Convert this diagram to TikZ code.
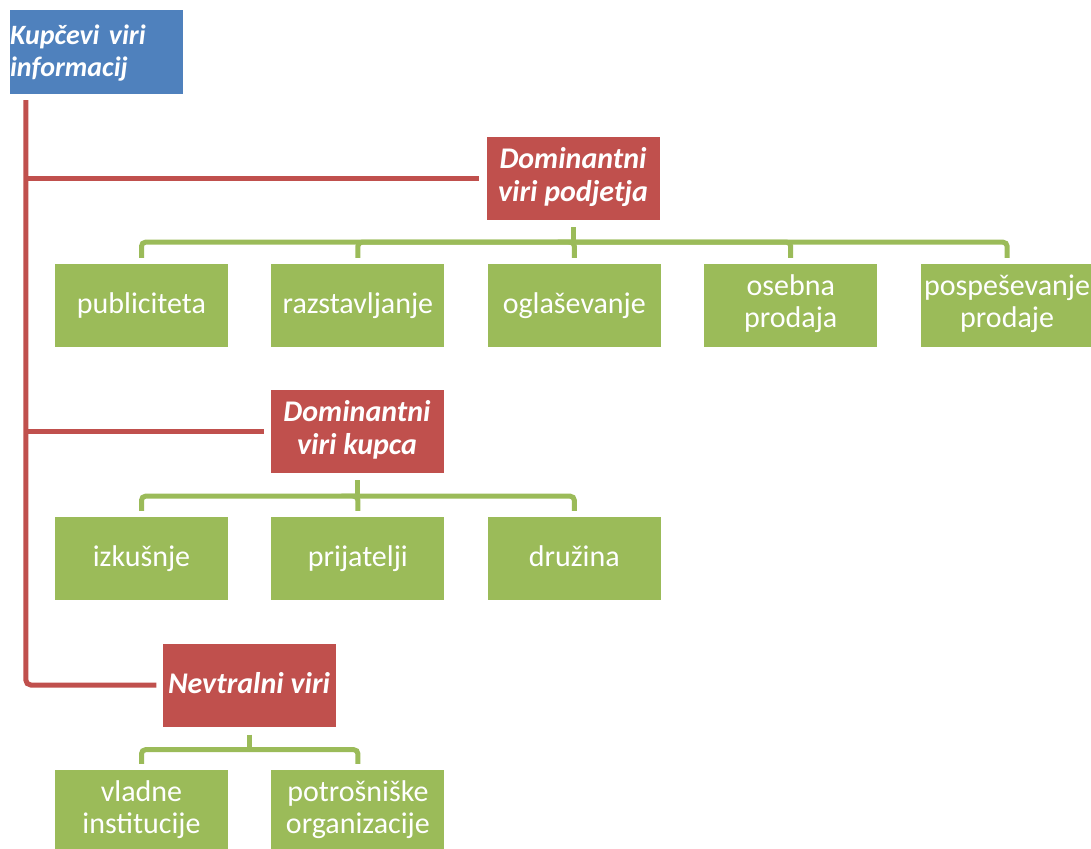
\documentclass[tikz,border=0pt]{standalone}
\usepackage{fontspec}
\setmainfont{Carlito}
\usetikzlibrary{positioning}
\definecolor{kBlue}{HTML}{4F81BD}
\definecolor{kRed}{HTML}{C0504D}
\definecolor{kGreen}{HTML}{9BBB59}
\newcommand{\kStrut}{\rule[-8pt]{0pt}{32pt}}
\tikzstyle{kRoot} = [rectangle, minimum width=173pt, minimum height=84pt, inner xsep=0pt, text width=173pt, align=left, fill=kBlue, text=white, font=\fontsize{28}{32}\selectfont\bfseries\itshape, execute at begin node=\strut]
\tikzstyle{kSource} = [rectangle, minimum width=173pt, minimum height=83pt, inner sep=0pt, align=center, fill=kRed, text=white, font=\fontsize{30}{33}\selectfont\bfseries\itshape, execute at begin node=\kStrut, execute at end node=\kStrut]
\tikzstyle{kItem} = [rectangle, minimum width=173pt, minimum height=83pt, inner sep=0pt, align=center, fill=kGreen, text=white, font=\fontsize{30}{32}\selectfont, execute at begin node=\kStrut, execute at end node=\kStrut]
\tikzstyle{kTrunk} = [draw=kRed, line width=5pt, rounded corners=5pt]
\tikzstyle{kBranch} = [draw=kGreen, line width=5pt, rounded corners=4pt]

\begin{document}
\begin{tikzpicture}[x=1pt, y=-1pt]
    \useasboundingbox (0,0) rectangle (1091,848);
    \clip (0,0) rectangle (1091,848);

    \node (root) [kRoot] at (96.5,52) {Kupčevi viri\\informacij};

    % viri podjetja
    \node (firm) [kSource] at (573,178.5) {Dominantni\\viri podjetja};
    \node (pub) [kItem] at (141.5,305.5) {publiciteta};
    \node (raz) [kItem, right=43pt of pub] {razstavljanje};
    \node (ogl) [kItem, right=43pt of raz] {oglaševanje};
    \node (ose) [kItem, right=43pt of ogl] {osebna\\prodaja};
    \node (pos) [kItem, right=43pt of ose] {pospeševanje\\prodaje};

    % viri kupca
    \node (buyer) [kSource] at (357,431.5) {Dominantni\\viri kupca};
    \node (izk) [kItem] at (141.5,558.5) {izkušnje};
    \node (pri) [kItem, right=43pt of izk] {prijatelji};
    \node (dru) [kItem, right=43pt of pri] {družina};

    % nevtralni viri
    \node (neutral) [kSource] at (249,685) {Nevtralni viri};
    \node (vla) [kItem] at (141.5,811.5) {vladne\\institucije};
    \node (pot) [kItem, right=43pt of vla] {potrošniške\\organizacije};

    \coordinate (trunkTop) at ([xshift=16pt, yshift=-6pt]root.south west);
    \draw [kTrunk] (trunkTop) |- ([xshift=-6pt]neutral.west);
    \draw [kTrunk] (trunkTop |- firm.west) -- ([xshift=-7pt]firm.west);
    \draw [kTrunk] (trunkTop |- buyer.west) -- ([xshift=-6pt]buyer.west);

    \coordinate (busFirm) at ([yshift=-22pt]firm.south);
    \coordinate (busBuyer) at ([yshift=-23pt]buyer.south);
    \coordinate (busNeutral) at ([yshift=-23pt]neutral.south);
    \draw [kBranch] ([yshift=-7pt]firm.south) -- (busFirm);
    \draw [kBranch] ([yshift=-7pt]buyer.south) -- (busBuyer);
    \draw [kBranch] ([yshift=-8pt]neutral.south) -- (busNeutral);
    \foreach \c in {pub,raz,ogl,ose,pos}
        \draw [kBranch] (busFirm) -| ([yshift=6pt]\c.north);
    \foreach \c in {izk,pri,dru}
        \draw [kBranch] (busBuyer) -| ([yshift=6pt]\c.north);
    \foreach \c in {vla,pot}
        \draw [kBranch] (busNeutral) -| ([yshift=6pt]\c.north);
\end{tikzpicture}
\end{document}
